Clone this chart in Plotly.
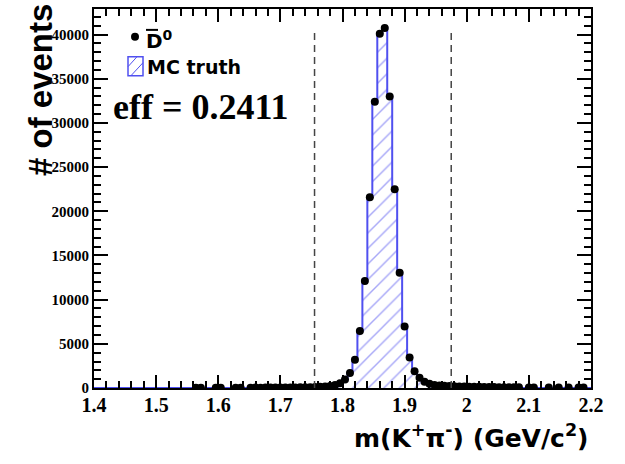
import numpy as np
import plotly.graph_objects as go

# ---------------- data ----------------
bin_lo, bin_hi, n_bins = 1.4, 2.2, 100

d0_counts = [
    0, 0, 0, 0, 0, 0, 0, 0, 0, 0,
    0, 0, 0, 0, 0, 0, 0, 0, 0, 0,
    40, 40, 0, 0, 40, 40, 0, 0, 40, 40,
    0, 40, 45, 40, 50, 45, 55, 50, 60, 65,
    70, 75, 85, 95, 110, 130, 160, 220, 330, 540,
    960, 1700, 3200, 6450, 12100, 21600, 32400, 40100, 40750, 33000,
    22500, 13050, 6950, 3460, 1900, 1150, 720, 470, 350, 290,
    250, 220, 200, 180, 165, 150, 140, 130, 120, 110,
    100, 95, 90, 85, 80, 75, 0, 70, 65, 0,
    0, 60, 0, 55, 0, 50, 0, 50, 45, 0,
]
mc_truth_counts = list(d0_counts)

window_edges = [1.755, 1.975]
eff_text = "eff = 0.2411"

x_tick_vals = [1.4, 1.5, 1.6, 1.7, 1.8, 1.9, 2.0, 2.1, 2.2]
x_tick_text = ["1.4", "1.5", "1.6", "1.7", "1.8", "1.9", "2", "2.1", "2.2"]
y_range_max = 42900

# ---------------- derived ----------------
edges = np.linspace(bin_lo, bin_hi, n_bins + 1)
centers = 0.5 * (edges[:-1] + edges[1:])
half_w = 0.5 * (bin_hi - bin_lo) / n_bins
counts = np.array(d0_counts, dtype=float)
mc = np.array(mc_truth_counts, dtype=float)
nz = counts > 0

BLUE = "#5050f0"
L, R, T, B = 94, 34, 7, 76
W, H = 625, 464
PW, PH = W - L - R, H - T - B


def px(x):
    return (x - L) / PW


def py(y):
    return (H - B - y) / PH


fig = go.Figure()

fig.add_trace(go.Scatter(
    x=edges, y=np.append(mc, mc[-1]),
    mode="lines", line=dict(color=BLUE, width=2, shape="hv"),
    fill="tozeroy", fillcolor="rgba(255,255,255,0)",
    fillpattern=dict(shape="/", fgcolor=BLUE, bgcolor="rgba(255,255,255,0)",
                     size=11, solidity=0.13),
    hoverinfo="skip", showlegend=False,
))

fig.add_trace(go.Scatter(
    x=centers[nz], y=counts[nz], mode="markers",
    marker=dict(color="black", size=8),
    error_x=dict(type="constant", value=half_w, width=0, thickness=2, color="black"),
    error_y=dict(type="data", array=np.sqrt(counts[nz]), width=0, thickness=1.5, color="black"),
    showlegend=False,
))

shapes = []
for xe in window_edges:
    shapes.append(dict(type="line", xref="x", yref="y", x0=xe, x1=xe, y0=0, y1=counts.max(),
                       line=dict(color="#444444", width=1.5, dash="7px,5px")))

# legend decorations
shapes.append(dict(type="circle", xref="paper", yref="paper",
                   x0=px(131), x1=px(139), y0=py(39), y1=py(31),
                   fillcolor="black", line=dict(color="black", width=0)))
shapes.append(dict(type="line", xref="paper", yref="paper",
                   x0=px(146), x1=px(158), y0=py(28), y1=py(28),
                   line=dict(color="black", width=2)))
shapes.append(dict(type="rect", xref="paper", yref="paper",
                   x0=px(128), x1=px(143), y0=py(74), y1=py(55),
                   line=dict(color=BLUE, width=1.5), fillcolor="rgba(0,0,0,0)"))
shapes.append(dict(type="line", xref="paper", yref="paper",
                   x0=px(128), x1=px(137), y0=py(65), y1=py(55),
                   line=dict(color=BLUE, width=1)))
shapes.append(dict(type="line", xref="paper", yref="paper",
                   x0=px(131), x1=px(143), y0=py(74), y1=py(61),
                   line=dict(color=BLUE, width=1)))

annotations = [
    dict(text="D<sup>0</sup>", xref="paper", yref="paper", x=px(144), y=py(38),
         xanchor="left", yanchor="middle", showarrow=False,
         font=dict(family="DejaVu Sans", size=20, color="black", weight="bold")),
    dict(text="MC truth", xref="paper", yref="paper", x=px(145), y=py(65),
         xanchor="left", yanchor="middle", showarrow=False,
         font=dict(family="DejaVu Sans", size=19, color="black", weight="bold")),
    dict(text=eff_text, xref="paper", yref="paper", x=px(111), y=py(106),
         xanchor="left", yanchor="middle", showarrow=False,
         font=dict(family="Liberation Serif", size=36, color="black", weight="bold")),
    dict(text="# of events", xref="paper", yref="paper", x=px(40), y=py(0),
         xanchor="center", yanchor="top", textangle=-90, showarrow=False,
         font=dict(family="Liberation Sans", size=33, color="black", weight="bold")),
    dict(text="m(K<sup>+</sup>π<sup>-</sup>) (GeV/c<sup>2</sup>)", xref="paper", yref="paper",
         x=px(591), y=py(437), xanchor="right", yanchor="middle", showarrow=False,
         font=dict(family="DejaVu Sans", size=25, color="black", weight="bold")),
]

axis_common = dict(
    showgrid=False, zeroline=False, showline=True, linecolor="black", linewidth=2,
    mirror="ticks", ticks="inside", tickcolor="black", tickwidth=1.5,
)

fig.update_layout(
    width=W, height=H,
    margin=dict(l=L, r=R, t=T, b=B, pad=0),
    paper_bgcolor="white", plot_bgcolor="white",
    shapes=shapes, annotations=annotations,
    xaxis=dict(range=[bin_lo, bin_hi], tickmode="array", tickvals=x_tick_vals,
               ticktext=x_tick_text, ticklen=13, ticklabelstandoff=-2,
               minor=dict(tick0=bin_lo, dtick=0.02, ticks="inside", ticklen=7,
                          tickcolor="black", tickwidth=1.5),
               tickfont=dict(family="Liberation Serif", size=20, color="black", weight="bold"),
               **axis_common),
    yaxis=dict(range=[0, y_range_max], tick0=0, dtick=5000, tickformat="d", ticklen=14,
               minor=dict(tick0=0, dtick=1000, ticks="inside", ticklen=7,
                          tickcolor="black", tickwidth=1.5),
               tickfont=dict(family="Liberation Serif", size=15, color="black", weight="bold"),
               **axis_common),
)

fig.write_html("out.html", config={"displayModeBar": False},
               post_script="document.body.style.margin='0';")
